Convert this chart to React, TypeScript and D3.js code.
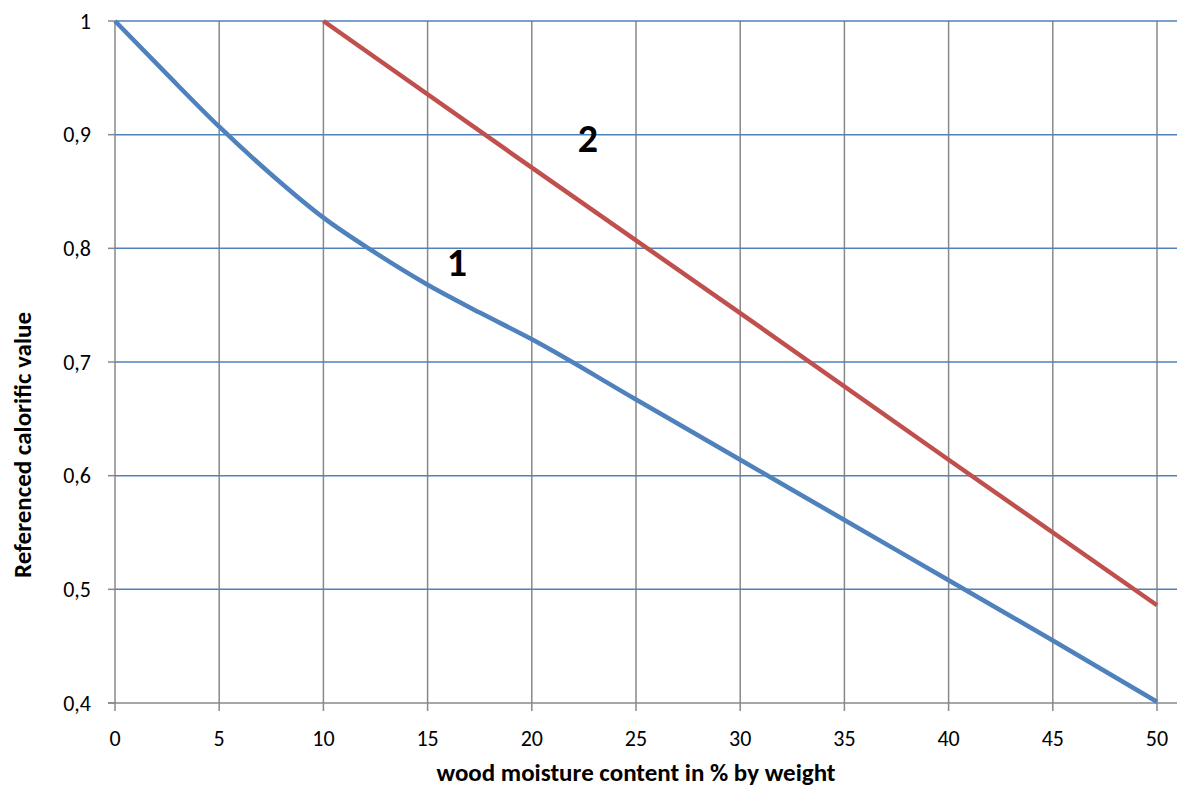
import React from "react";
import * as d3 from "d3";

const moisture1 = [0, 2.5, 5, 7.5, 10, 12.5, 15, 17.5, 20, 25, 30, 35, 40, 45, 50];
const value1 = [1, 0.953, 0.907, 0.865, 0.827, 0.796, 0.768, 0.7435, 0.72, 0.667, 0.614, 0.561, 0.508, 0.455, 0.401];
const moisture2 = [10, 20, 30, 40, 50];
const value2 = [1, 0.871, 0.743, 0.614, 0.486];
const xTicks = [0, 5, 10, 15, 20, 25, 30, 35, 40, 45, 50];
const yTicks = [0.4, 0.5, 0.6, 0.7, 0.8, 0.9, 1];

export default function App() {
  const W = 1178, H = 789;
  const x = d3.scaleLinear().domain([0, 50]).range([115, 1157]);
  const y = d3.scaleLinear().domain([0.4, 1]).range([703, 21]);
  const line = d3.line<[number, number]>().x(d => x(d[0])).y(d => y(d[1])).curve(d3.curveMonotoneX);
  const d1 = line(moisture1.map((m, i) => [m, value1[i]]) as [number, number][]) || "";
  const d2 = d3.line<[number, number]>().x(d => x(d[0])).y(d => y(d[1]))(moisture2.map((m, i) => [m, value2[i]]) as [number, number][]) || "";
  const font = "Carlito, Calibri, 'Open Sans', sans-serif";
  const fmt = (v: number) => (v === 1 ? "1" : v.toFixed(1).replace(".", ","));
  return (
    <svg width={W} height={H} style={{ position: "absolute", left: 0, top: 0 }} fontFamily={font}>
      <rect width={W} height={H} fill="white" />
      {xTicks.map(t => (
        <line key={"vx" + t} x1={x(t)} x2={x(t)} y1={y(1)} y2={y(0.4) + 8} stroke="#888" strokeWidth={1.5} />
      ))}
      {yTicks.filter(t => t !== 0.4).map(t => (
        <line key={"hy" + t} x1={x(0)} x2={x(50) + 20} y1={y(t)} y2={y(t)} stroke="#4F81BD" strokeWidth={1.5} />
      ))}
      {yTicks.map(t => (
        <line key={"ty" + t} x1={x(0) - 7} x2={x(0)} y1={y(t)} y2={y(t)} stroke="#888" strokeWidth={1.5} />
      ))}
      <line x1={x(0) - 7} x2={x(50) + 20} y1={y(0.4)} y2={y(0.4)} stroke="#888" strokeWidth={1.5} />
      <path d={d2} fill="none" stroke="#C0504D" strokeWidth={4.5} />
      <path d={d1} fill="none" stroke="#4F81BD" strokeWidth={4.5} />
      {yTicks.map(t => (
        <text key={"ly" + t} x={91} y={y(t)} dy="0.35em" textAnchor="end" fontSize={22} fill="#000">{fmt(t)}</text>
      ))}
      {xTicks.map(t => (
        <text key={"lx" + t} x={x(t)} y={738} dy="0.35em" textAnchor="middle" fontSize={22} fill="#000">{t}</text>
      ))}
      <text x={636} y={781} textAnchor="middle" fontSize={25} fontWeight="bold">wood moisture content in % by weight</text>
      <text transform={`translate(22,445) rotate(-90)`} dy="0.35em" textAnchor="middle" fontSize={25} fontWeight="bold">Referenced calorific value</text>
      <text x={457} y={262} dy="0.35em" textAnchor="middle" fontSize={40} fontWeight="bold">1</text>
      <text x={588} y={138} dy="0.35em" textAnchor="middle" fontSize={40} fontWeight="bold">2</text>
    </svg>
  );
}
